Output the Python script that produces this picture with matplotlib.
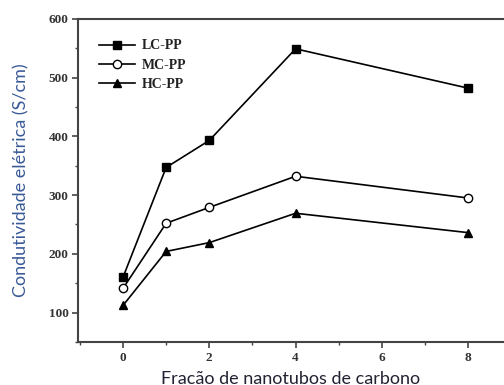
import matplotlib
matplotlib.use("Agg")
import matplotlib.pyplot as plt
from matplotlib.ticker import MultipleLocator

x = [0, 1, 2, 4, 8]
lc_pp = [160, 347, 393, 549, 482]
mc_pp = [141, 252, 279, 332, 295]
hc_pp = [112, 204, 219, 269, 236]
series_labels = ["LC-PP", "MC-PP", "HC-PP"]
xticks = [0, 2, 4, 6, 8]
yticks = [100, 200, 300, 400, 500, 600]

fig = plt.figure(figsize=(5.04, 3.85), dpi=100)
ax = fig.add_axes([0.155, 0.112, 0.845, 0.839])

kw = dict(color="black", lw=1.2, ms=6, markeredgewidth=1.0, mec="black")
ax.plot(x, lc_pp, marker="s", mfc="black", label=series_labels[0], **kw)
ax.plot(x, mc_pp, marker="o", mfc="white", label=series_labels[1], **kw)
ax.plot(x, hc_pp, marker="^", mfc="black", label=series_labels[2], **kw)

ax.set_xlim(-1.04, 8.83)
ax.set_ylim(50, 600)
ax.set_xticks(xticks)
ax.set_yticks(yticks)
ax.xaxis.set_minor_locator(MultipleLocator(1))
ax.yaxis.set_minor_locator(MultipleLocator(50))

for s in ["left", "top", "bottom"]:
    ax.spines[s].set_linewidth(1.5)
    ax.spines[s].set_color("#444444")
ax.spines["right"].set_visible(False)

ax.tick_params(which="major", direction="out", length=4, width=1.2, color="#444444", pad=3)
ax.tick_params(which="minor", direction="out", length=2.5, width=1.0, color="#444444")
for lab in ax.get_xticklabels() + ax.get_yticklabels():
    lab.set_fontfamily("Liberation Serif")
    lab.set_fontweight("bold")
    lab.set_fontsize(9.5)
    lab.set_color("#333333")

ax.set_xlabel("Fracão de nanotubos de carbono", fontsize=13, family="Lato",
              color="#222233", labelpad=5)
ax.set_ylabel("Condutividade elétrica (S/cm)", fontsize=13, family="Lato",
              color="#3a5a98", labelpad=14)

leg = ax.legend(loc="upper left", bbox_to_anchor=(0.02, 0.975), frameon=False,
                prop={"family": "Liberation Serif", "weight": "bold", "size": 10},
                handlelength=2.6, handletextpad=0.45, labelspacing=0.45)
for t in leg.get_texts():
    t.set_color("#222222")

fig.savefig("out.png", dpi=100)
